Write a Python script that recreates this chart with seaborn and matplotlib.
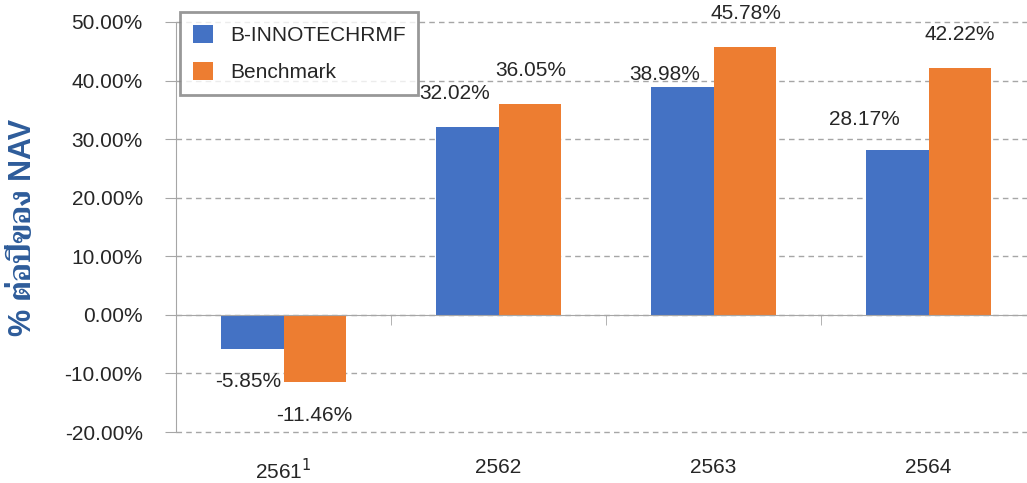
import matplotlib
matplotlib.use("Agg")
import matplotlib.pyplot as plt
import matplotlib.ticker as mticker
from matplotlib import font_manager
from matplotlib.ft2font import FT2Font
import pandas as pd
import seaborn as sns

years = ["2561$^1$", "2562", "2563", "2564"]
fund = [-5.85, 32.02, 38.98, 28.17]
bench = [-11.46, 36.05, 45.78, 42.22]
series = ["B-INNOTECHRMF", "Benchmark"]
colors = ["#4472C4", "#ED7D31"]
ylabel = "% ต่อปีของ NAV"

# label offsets (points) to mimic the hand-placed labels
fund_off = [(-3, -23), (-9, 24), (-13, 9), (-24, 22)]
bench_off = [(0, -24), (1, 24), (1, 24), (0, 24)]

df = pd.DataFrame({
    "year": years * 2,
    "value": [v / 100 for v in fund + bench],
    "series": [series[0]] * 4 + [series[1]] * 4,
})


def find_thai_font():
    # look for any installed family with Thai glyphs
    best = None
    for f in font_manager.fontManager.ttflist:
        try:
            cmap = FT2Font(f.fname).get_charmap()
        except Exception:
            continue
        if all(ord(c) in cmap for c in "ต่อปีของ"):
            if f.weight in ("bold", 700) or best is None:
                best = f.name
    return best


thai = find_thai_font()

sns.set_style("white")
fams = ["Liberation Sans", "DejaVu Sans"]
if thai:
    fams.append(thai)
plt.rcParams["font.family"] = fams

fig = plt.figure(figsize=(10.27, 4.83), dpi=100)
ax = fig.add_axes([176 / 1027, 51 / 483, 860 / 1027, 410 / 483])

sns.barplot(data=df, x="year", y="value", hue="series", palette=colors,
            width=0.58, saturation=1, linewidth=0, ax=ax)

ax.set_ylim(-0.20, 0.50)
ax.set_xlim(-0.5, 3.5)
ax.yaxis.set_major_locator(mticker.FixedLocator([i / 10 for i in range(-2, 6)]))
ax.yaxis.set_major_formatter(mticker.FuncFormatter(lambda v, p: f"{v * 100:.2f}%"))
ax.yaxis.grid(True, linestyle=(0, (4, 3)), color="#A6A6A6", linewidth=1)
for gl in ax.get_ygridlines():
    gl.set_clip_on(False)
ax.set_axisbelow(True)

for s in ["top", "right"]:
    ax.spines[s].set_visible(False)
ax.spines["left"].set_color("#A6A6A6")
ax.spines["bottom"].set_color("#A6A6A6")
ax.spines["bottom"].set_position(("data", 0))
ax.spines["bottom"].set_zorder(3)

ax.tick_params(axis="y", direction="out", length=8, color="#A6A6A6",
               labelsize=15, labelcolor="#262626", pad=16, left=True)
ax.tick_params(axis="x", which="major", length=0, labelsize=15,
               labelcolor="#262626", pad=103)
ax.xaxis.set_minor_locator(mticker.FixedLocator([0.5, 1.5, 2.5]))
ax.tick_params(axis="x", which="minor", direction="out", length=7,
               color="#A6A6A6", bottom=True)

ax.set_xlabel("")
ax.set_ylabel(ylabel, fontsize=22, fontweight="bold", color="#2E5C9A")
ax.yaxis.set_label_coords(-0.16, 0.5)

for cont, vals, offs in zip(ax.containers, [fund, bench], [fund_off, bench_off]):
    for bar, v, off in zip(cont, vals, offs):
        x = bar.get_x() + bar.get_width() / 2
        ax.annotate(f"{v:.2f}%", (x, v / 100), xytext=off,
                    textcoords="offset points", ha="center", va="center",
                    fontsize=15, color="#262626")

leg = ax.legend(loc="upper left", bbox_to_anchor=(180 / 1027, 1 - 12 / 483),
                bbox_transform=fig.transFigure, borderaxespad=0, fontsize=15,
                frameon=True, fancybox=False, handlelength=1.0, handleheight=1.0,
                labelspacing=0.8, borderpad=0.6, handletextpad=0.8)
leg.get_frame().set_edgecolor("#7F7F7F")
leg.get_frame().set_linewidth(2)
for t in leg.get_texts():
    t.set_color("#262626")

fig.savefig("out.png", dpi=100)
